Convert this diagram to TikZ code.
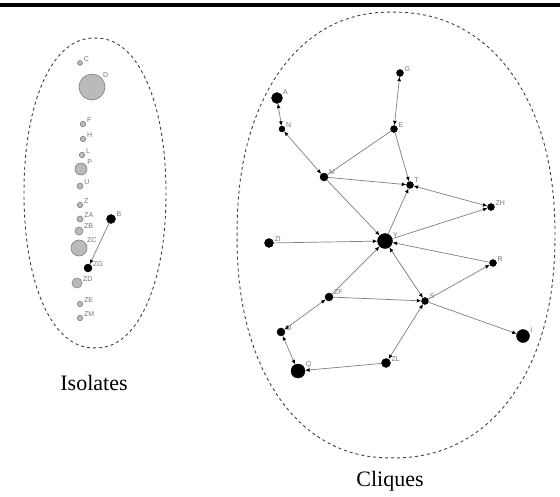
\documentclass[tikz,border=0pt]{standalone}
\usepackage{fontspec}
\setmainfont{Liberation Serif}
\newfontfamily\labfont{Liberation Sans}
\usetikzlibrary{arrows.meta}
\begin{document}
\begin{tikzpicture}[x=1pt,y=-1pt,
  bn/.style={circle,fill=black,draw=black,inner sep=0pt,minimum size=#1},
  gn/.style={circle,fill=black!27,draw=black!50,line width=0.6pt,inner sep=0pt,minimum size=#1},
  lbl/.style={font=\labfont\fontsize{7}{7}\selectfont,text=black!55,inner sep=0.8pt},
  conn/.style={draw=black!50,line width=0.7pt},
  arr/.style={conn,-{Latex[length=4.5pt,width=3.8pt,color=black]}},
  barr/.style={conn,{Latex[length=4.5pt,width=3.8pt,color=black]}-{Latex[length=4.5pt,width=3.8pt,color=black]}},
  hull/.style={draw=black!75,dash pattern=on 3pt off 3pt,line width=0.9pt},
  captxt/.style={font=\fontsize{22}{24}\selectfont}
]
\useasboundingbox[fill=white] (0,0) rectangle (560,496);
\draw[line width=4pt] (0,5) -- (560,5);

% hulls (rounded superellipses)
\draw[hull] plot[domain=1.5:358.5, samples=120, variable=\t]
  ({95 + 71*cos(\t)*abs(cos(\t))^(-0.09)}, {193 + 155*sin(\t)*abs(sin(\t))^(-0.05)}) -- cycle;
\draw[hull] plot[domain=1.5:358.5, samples=120, variable=\t]
  ({392 + ifthenelse(cos(\t)>0,163,155)*cos(\t)*abs(cos(\t))^(-0.09)}, {235 + 223*sin(\t)*abs(sin(\t))^(-0.09)}) -- cycle;

% isolates
\node[gn=5,   label={[lbl]10:C}]  (C)  at (80,63) {};
\node[gn=26,  label={[lbl]40:D}]  (D)  at (92,87) {};
\node[gn=5.5, label={[lbl]10:F}]  (F)  at (83,124) {};
\node[gn=5.5, label={[lbl]10:H}]  (H)  at (83,139) {};
\node[gn=5.5, label={[lbl]10:L}]  (L)  at (82,155) {};
\node[gn=12,  label={[lbl]30:P}]  (P)  at (81,169) {};
\node[gn=6,   label={[lbl]10:U}]  (U)  at (80,186) {};
\node[gn=5.5, label={[lbl]10:Z}]  (Z)  at (80,205) {};
\node[gn=6,   label={[lbl]10:ZA}] (ZA) at (80,219) {};
\node[gn=8,   label={[lbl]20:ZB}] (ZB) at (79,231) {};
\node[gn=16,  label={[lbl]30:ZC}] (ZC) at (79,248) {};
\node[gn=10,  label={[lbl]10:ZD}] (ZD) at (77,283) {};
\node[gn=5.5, label={[lbl]10:ZE}] (ZE) at (80,304) {};
\node[gn=5.5, label={[lbl]10:ZM}] (ZM) at (80,318) {};
\node[bn=9,   label={[lbl]15:B}]  (B)  at (111,219) {};
\node[bn=8,   label={[lbl]10:ZG}] (ZG) at (88,268) {};
\draw[arr] (B) -- (ZG);

% cliques
\node[bn=11, label={[lbl]25:A}]  (A)  at (277,98) {};
\node[bn=6,  label={[lbl]10:N}]  (N)  at (282,129) {};
\node[bn=8,  label={[lbl]15:M}]  (M)  at (324,177) {};
\node[bn=7,  label={[lbl]10:G}]  (G)  at (400,73) {};
\node[bn=7,  label={[lbl]10:E}]  (E)  at (394,129) {};
\node[bn=7,  label={[lbl]20:T}]  (T)  at (410,185) {};
\node[bn=7,  label={[lbl]10:ZH}] (ZH) at (491,207) {};
\node[bn=15, label={[lbl]20:Y}]  (Y)  at (385,241) {};
\node[bn=9,  label={[lbl]10:ZI}] (ZI) at (269,243) {};
\node[bn=8,  label={[lbl]15:ZF}] (ZF) at (329,297) {};
\node[bn=7,  label={[lbl]10:R}]  (R)  at (493,263) {};
\node[bn=7,  label={[lbl]15:S}]  (S)  at (425,301) {};
\node[bn=13, label={[lbl]20:I}]  (I)  at (523,336) {};
\node[bn=8,  label={[lbl]10:O}]  (O)  at (281,332) {};
\node[bn=14, label={[lbl]20:Q}]  (Q)  at (298,371) {};
\node[bn=9,  label={[lbl]10:ZL}] (ZL) at (386,363) {};

\draw[barr] (A) -- (N);
\draw[barr] (N) -- (M);
\draw[barr] (G) -- (E);
\draw[conn] (E) -- (M);
\draw[arr] (E) -- (T);
\draw[arr] (M) -- (T);
\draw[barr] (T) -- (ZH);
\draw[arr] (Y) -- (T);
\draw[arr] (M) -- (Y);
\draw[arr] (ZI) -- (Y);
\draw[arr] (ZF) -- (Y);
\draw[arr] (Y) -- (ZH);
\draw[arr] (R) -- (Y);
\draw[arr] (S) -- (R);
\draw[barr] (Y) -- (S);
\draw[arr] (ZF) -- (S);
\draw[barr] (ZL) -- (S);
\draw[arr] (S) -- (I);
\draw[arr] (ZL) -- (Q);
\draw[barr] (O) -- (Q);
\draw[barr] (O) -- (ZF);

\node[captxt] (iso) at (94,383) {Isolates};
\node[captxt] (cli) at (390,481) {Cliques};
\end{tikzpicture}
\end{document}
